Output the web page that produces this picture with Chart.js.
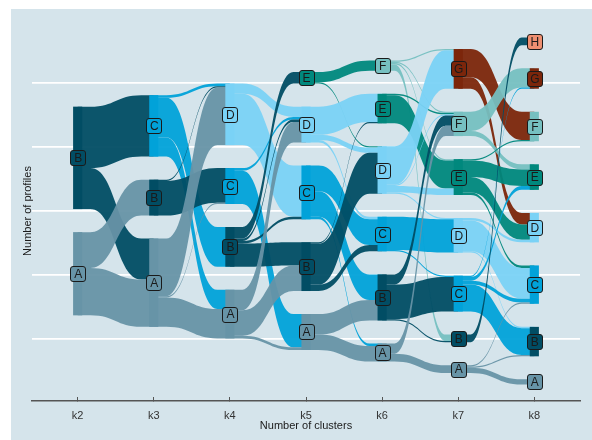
<!DOCTYPE html>
<html>
<head>
<meta charset="utf-8">
<script src="https://cdn.jsdelivr.net/npm/chart.js@4.4.1/dist/chart.umd.min.js"></script>
<style>
    body { margin: 0; background: #ffffff; }
    #wrap { position: absolute; left: 11px; top: 9px; width: 581px; height: 431px; background: #d5e4eb; }
</style>
</head>
<body>
<div id="wrap"><canvas id="alluvialChart" width="581" height="431"></canvas></div>
<script>
const stages = ["k2", "k3", "k4", "k5", "k6", "k7", "k8"];
const clusters = ["A", "B", "C", "D", "E", "F", "G", "H"];
const clusterColors = ["#6794a7", "#014d64", "#01a2d9", "#7ad2f6", "#00887d", "#76c0c1", "#7c260b", "#ee8f71"];
const yTicks = [-100, -50, 0, 50, 100];

// profiles in each cluster, listed A, B, C, ...
const k2Sizes = [65, 80];
const k3Sizes = [69, 28, 48];
const k4Sizes = [38, 31, 28, 48];
const k5Sizes = [28, 38, 42, 28, 9];
const k6Sizes = [14, 36, 27, 37, 23, 8];
const k7Sizes = [6, 6, 28, 27, 28, 19, 31];
const k8Sizes = [4, 23, 30, 23, 20, 23, 16, 6];

// profiles moving from one cluster to the next: [from, to, count]
const k2k3Flows = [["B", "C", 48], ["B", "A", 32], ["A", "B", 28], ["A", "A", 37]];
const k3k4Flows = [
    ["C", "D", 2], ["C", "B", 31], ["C", "A", 15],
    ["B", "D", 1], ["B", "C", 27],
    ["A", "D", 45], ["A", "C", 1], ["A", "A", 23]
];
const k4k5Flows = [
    ["D", "D", 8], ["D", "C", 40],
    ["C", "D", 2], ["C", "A", 26],
    ["B", "E", 9], ["B", "D", 2], ["B", "C", 2], ["B", "B", 18],
    ["A", "D", 16], ["A", "B", 20], ["A", "A", 2]
];
const k5k6Flows = [
    ["E", "F", 8], ["E", "D", 1],
    ["D", "E", 22], ["D", "D", 4], ["D", "C", 2],
    ["C", "C", 20], ["C", "B", 20], ["C", "A", 2],
    ["B", "E", 1], ["B", "D", 32], ["B", "C", 5],
    ["A", "B", 16], ["A", "A", 12]
];
const k6k7Flows = [
    ["F", "G", 1], ["F", "F", 1], ["F", "E", 1], ["F", "B", 5],
    ["E", "F", 1], ["E", "E", 22],
    ["D", "G", 30], ["D", "F", 1], ["D", "E", 5], ["D", "D", 1],
    ["C", "D", 26], ["C", "C", 1],
    ["B", "F", 8], ["B", "C", 27], ["B", "B", 1],
    ["A", "F", 8], ["A", "A", 6]
];
const k7k8Flows = [
    ["G", "F", 22], ["G", "D", 9],
    ["F", "G", 15], ["F", "E", 4],
    ["E", "F", 1], ["E", "E", 13], ["E", "D", 12], ["E", "C", 2],
    ["D", "D", 2], ["D", "C", 24], ["D", "B", 1],
    ["C", "G", 1], ["C", "E", 3], ["C", "C", 3], ["C", "B", 21],
    ["B", "H", 6],
    ["A", "C", 1], ["A", "B", 1], ["A", "A", 4]
];

const stageSizes = [k2Sizes, k3Sizes, k4Sizes, k5Sizes, k6Sizes, k7Sizes, k8Sizes];
const stageFlows = [k2k3Flows, k3k4Flows, k4k5Flows, k5k6Flows, k6k7Flows, k7k8Flows];

const gapSize = 18;
const stratumWidth = 0.12;
const flatPart = 0.12;
const flowAlpha = 0.95;
const fontFamily = "'Liberation Sans', Arial, sans-serif";

const idx = (c) => clusters.indexOf(c);

function hexToRgba(hex, a) {
    const n = parseInt(hex.slice(1), 16);
    return `rgba(${(n >> 16) & 255}, ${(n >> 8) & 255}, ${n & 255}, ${a})`;
}

// stack the clusters of a stage, H on top down to A, centred on zero
function stackStage(sizes) {
    const total = sizes.reduce((s, v) => s + v, 0) + gapSize * (sizes.length - 1);
    let top = total / 2;
    const nodes = {};
    for (let c = sizes.length - 1; c >= 0; c--) {
        nodes[clusters[c]] = { top: top, bottom: top - sizes[c], outUsed: 0, inUsed: 0 };
        top -= sizes[c] + gapSize;
    }
    return nodes;
}

const stageNodes = stageSizes.map(stackStage);

const ribbons = [];
stageFlows.forEach((flows, i) => {
    const items = flows.map(f => ({ stage: i, from: f[0], to: f[1], n: f[2] }));
    const bySource = items.slice().sort((a, b) => (idx(b.from) - idx(a.from)) || (idx(b.to) - idx(a.to)));
    bySource.forEach(r => {
        const s = stageNodes[i][r.from];
        r.y0 = s.top - s.outUsed;
        s.outUsed += r.n;
    });
    const byTarget = items.slice().sort((a, b) => (idx(b.to) - idx(a.to)) || (idx(b.from) - idx(a.from)));
    byTarget.forEach(r => {
        const t = stageNodes[i + 1][r.to];
        r.y1 = t.top - t.inUsed;
        t.inUsed += r.n;
    });
    bySource.forEach(r => ribbons.push(r));
});

const alluvialPlugin = {
    id: "alluvial",
    beforeDatasetsDraw(chart) {
        const { ctx, scales: { x, y } } = chart;
        ctx.save();

        ribbons.forEach(r => {
            const xc0 = x.getPixelForValue(r.stage);
            const xc1 = x.getPixelForValue(r.stage + 1);
            const x0 = x.getPixelForValue(r.stage + stratumWidth / 2);
            const x1 = x.getPixelForValue(r.stage + 1 - stratumWidth / 2);
            const xa = x0 + (x1 - x0) * flatPart;
            const xb = x1 - (x1 - x0) * flatPart;
            const xm = (xa + xb) / 2;
            const t0 = y.getPixelForValue(r.y0);
            const b0 = y.getPixelForValue(r.y0 - r.n);
            const t1 = y.getPixelForValue(r.y1);
            const b1 = y.getPixelForValue(r.y1 - r.n);
            ctx.beginPath();
            ctx.moveTo(xc0, t0);
            ctx.lineTo(xa, t0);
            ctx.bezierCurveTo(xm, t0, xm, t1, xb, t1);
            ctx.lineTo(xc1, t1);
            ctx.lineTo(xc1, b1);
            ctx.lineTo(xb, b1);
            ctx.bezierCurveTo(xm, b1, xm, b0, xa, b0);
            ctx.lineTo(xc0, b0);
            ctx.closePath();
            ctx.fillStyle = hexToRgba(clusterColors[idx(r.from)], flowAlpha);
            ctx.fill();
        });

        // strata
        stageNodes.forEach((nodes, i) => {
            const left = x.getPixelForValue(i - stratumWidth / 2);
            const right = x.getPixelForValue(i + stratumWidth / 2);
            Object.keys(nodes).forEach(c => {
                const top = y.getPixelForValue(nodes[c].top);
                const bottom = y.getPixelForValue(nodes[c].bottom);
                ctx.fillStyle = clusterColors[idx(c)];
                ctx.fillRect(left, top, right - left, bottom - top);
            });
        });

        // cluster labels
        ctx.font = `12px ${fontFamily}`;
        ctx.textAlign = "center";
        ctx.textBaseline = "middle";
        stageNodes.forEach((nodes, i) => {
            const cx = x.getPixelForValue(i);
            Object.keys(nodes).forEach(c => {
                const cy = y.getPixelForValue((nodes[c].top + nodes[c].bottom) / 2);
                const w = 15, h = 15;
                ctx.beginPath();
                ctx.roundRect(Math.round(cx - w / 2) + 0.5, Math.round(cy - h / 2) + 0.5, w, h, 2.5);
                ctx.fillStyle = clusterColors[idx(c)];
                ctx.fill();
                ctx.lineWidth = 1;
                ctx.strokeStyle = "#1a1a1a";
                ctx.stroke();
                ctx.fillStyle = "#1a1a1a";
                ctx.fillText(c, cx + 0.5, cy + 1);
            });
        });

        ctx.restore();
    }
};

new Chart(document.getElementById("alluvialChart"), {
    type: "scatter",
    data: { datasets: [] },
    options: {
        responsive: false,
        animation: false,
        devicePixelRatio: 1,
        layout: { padding: { top: 12, right: 12, left: 0, bottom: 0 } },
        plugins: { legend: { display: false }, tooltip: { enabled: false } },
        scales: {
            x: {
                type: "linear",
                min: -0.6,
                max: stages.length - 0.4,
                afterBuildTicks: (s) => { s.ticks = stages.map((k, i) => ({ value: i })); },
                afterFit: (s) => { s.height = 39; },
                ticks: {
                    callback: (v) => stages[v],
                    color: "#333333",
                    padding: 12,
                    font: { family: fontFamily, size: 11 }
                },
                grid: { drawOnChartArea: false, drawTicks: true, tickLength: -4, color: "#555555", lineWidth: 1 },
                border: { display: true, color: "#555555", width: 1.5 },
                title: {
                    display: true,
                    text: "Number of clusters",
                    color: "#1a1a1a",
                    padding: { top: 0, bottom: 7 },
                    font: { family: fontFamily, size: 11 }
                }
            },
            y: {
                type: "linear",
                min: -148.4,
                max: 148.4,
                afterBuildTicks: (s) => { s.ticks = yTicks.map(v => ({ value: v })); },
                afterFit: (s) => { s.width = 21; },
                ticks: { display: false },
                grid: { color: "#ffffff", lineWidth: 1.8, drawTicks: false },
                border: { display: false },
                title: {
                    display: true,
                    text: "Number of profiles",
                    color: "#1a1a1a",
                    padding: { top: 10, bottom: 0 },
                    font: { family: fontFamily, size: 11 }
                }
            }
        }
    },
    plugins: [alluvialPlugin]
});
</script>
</body>
</html>
